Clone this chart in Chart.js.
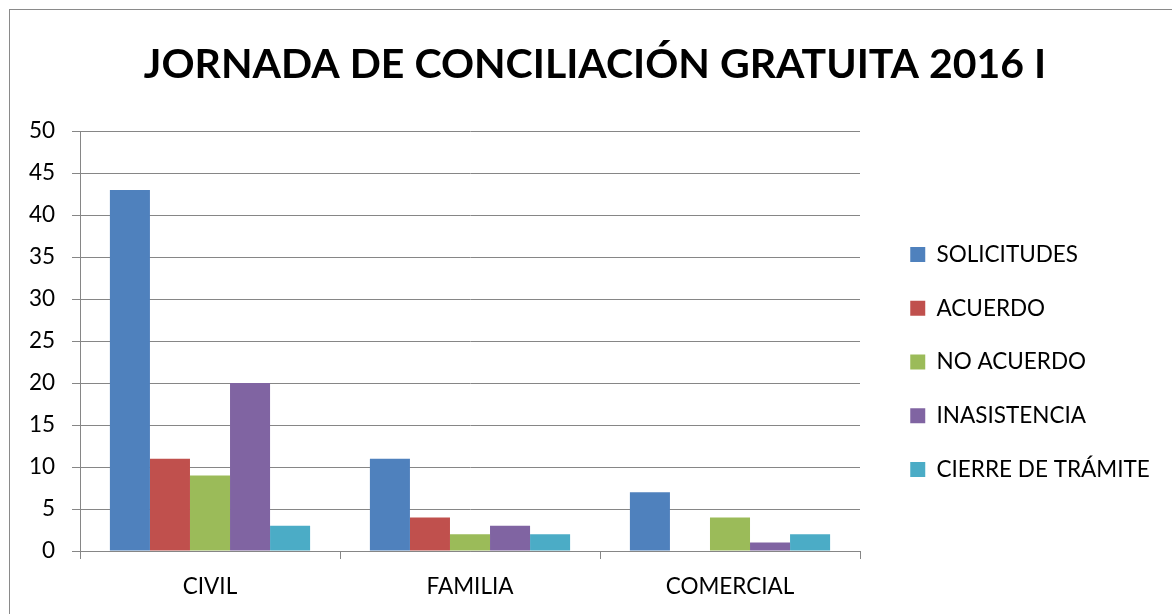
<!DOCTYPE html>
<html>
<head>
<meta charset="utf-8">
<script src="https://cdn.jsdelivr.net/npm/chart.js@4"></script>
<style>
  html, body { margin: 0; padding: 0; background: #fff; }
  #wrap { position: absolute; left: 0; top: 0; width: 1172px; height: 614px; overflow: hidden; }
  #frame { position: absolute; left: 9px; top: 9px; width: 1200px; height: 700px; border: 1px solid #8a8a8a; box-sizing: border-box; }
  #c { position: absolute; left: 0; top: 0; }
</style>
</head>
<body>
<div id="wrap">
  <div id="frame"></div>
  <canvas id="c" width="1172" height="614"></canvas>
</div>
<script>
const titleText = 'JORNADA DE CONCILIACIÓN GRATUITA 2016 I';
const categories = ['CIVIL', 'FAMILIA', 'COMERCIAL'];
const seriesNames = ['SOLICITUDES', 'ACUERDO', 'NO ACUERDO', 'INASISTENCIA', 'CIERRE DE TRÁMITE'];
const solicitudes = [43, 11, 7];
const acuerdo = [11, 4, 0];
const noAcuerdo = [9, 2, 4];
const inasistencia = [20, 3, 1];
const cierreTramite = [3, 2, 2];
const seriesColors = ['#4F81BD', '#C0504D', '#9BBB59', '#8064A2', '#4BACC6'];
const yMin = 0, yMax = 50, yStep = 5;

const seriesValues = [solicitudes, acuerdo, noAcuerdo, inasistencia, cierreTramite];
const FONT = 'Lato, "Open Sans", sans-serif';

const LEGEND_WIDTH = 312;
const LEGEND_DX = 19;
const LEGEND_DY = 55;

const legendAdjust = {
  id: 'legendAdjust',
  beforeLayout(chart) {
    const lg = chart.legend;
    if (lg && !lg._patched) {
      const origFit = lg.fit;
      lg.fit = function () {
        origFit.call(this);
        this.width = LEGEND_WIDTH;
      };
      lg._patched = true;
    }
  },
  afterLayout(chart) {
    const lg = chart.legend;
    if (lg) {
      lg.left += LEGEND_DX; lg.right += LEGEND_DX;
      lg.top += LEGEND_DY; lg.bottom += LEGEND_DY;
    }
  }
};

new Chart(document.getElementById('c'), {
  type: 'bar',
  data: {
    labels: categories,
    datasets: seriesNames.map((n, i) => ({
      label: n,
      data: seriesValues[i],
      backgroundColor: seriesColors[i],
      borderWidth: 0,
      categoryPercentage: 0.77,
      barPercentage: 1.0
    }))
  },
  plugins: [legendAdjust],
  options: {
    responsive: false,
    animation: false,
    devicePixelRatio: 1,
    layout: { padding: { left: 18, right: 0, top: 0, bottom: 0 } },
    plugins: {
      title: {
        display: true,
        text: titleText,
        color: '#000',
        font: { family: FONT, size: 41, weight: 'bold' },
        padding: { top: 40, bottom: 42 }
      },
      legend: {
        display: true,
        position: 'right',
        labels: {
          color: '#000',
          font: { family: FONT, size: 22.5 },
          boxWidth: 15,
          boxHeight: 15,
          padding: 31.25
        }
      },
      tooltip: { enabled: false }
    },
    scales: {
      x: {
        grid: { display: true, drawOnChartArea: false, offset: true, color: '#868686', tickLength: 8, lineWidth: 1 },
        border: { display: true, color: '#868686', width: 1 },
        ticks: { color: '#000', font: { family: FONT, size: 22.5 }, padding: 14 }
      },
      y: {
        min: yMin, max: yMax,
        afterFit(scale) { scale.width = 62; },
        grid: { display: true, color: '#868686', tickLength: 8, lineWidth: 1 },
        border: { display: true, color: '#868686', width: 1 },
        ticks: { stepSize: yStep, color: '#000', font: { family: FONT, size: 22.5 }, padding: 17 }
      }
    }
  }
});
</script>
</body>
</html>
